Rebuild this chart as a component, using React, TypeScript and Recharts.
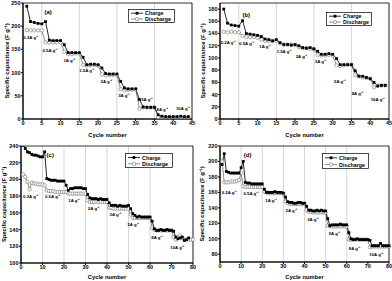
import React from 'react';
import { LineChart, Line, XAxis, YAxis, CartesianGrid, ReferenceArea, ReferenceDot, Legend } from 'recharts';

const FONT = "'Liberation Sans', Arial, sans-serif";

// cycle numbers
const cycles44 = [
  1, 2, 3, 4, 5, 6, 7, 8, 9, 10, 11, 12, 13, 14, 15, 16, 17, 18, 19, 20, 21, 22,
  23, 24, 25, 26, 27, 28, 29, 30, 31, 32, 33, 34, 35, 36, 37, 38, 39, 40, 41, 42, 43, 44,
];
const cycles80 = [
  1, 2, 3, 4, 5, 6, 7, 8, 9, 10, 11, 12, 13, 14, 15, 16, 17, 18, 19, 20,
  21, 22, 23, 24, 25, 26, 27, 28, 29, 30, 31, 32, 33, 34, 35, 36, 37, 38, 39, 40,
  41, 42, 43, 44, 45, 46, 47, 48, 49, 50, 51, 52, 53, 54, 55, 56, 57, 58, 59, 60,
  61, 62, 63, 64, 65, 66, 67, 68, 69, 70, 71, 72, 73, 74, 75, 76, 77, 78, 79, 80,
];

// (a)
const chargeA = [
  243, 210, 208, 206, 205, 210, 170, 169, 169, 169, 160, 143, 143, 143, 143, 133, 117, 118, 118, 117, 110, 98,
  97, 97, 97, 81, 67, 65, 65, 65, 42, 26, 25, 25, 25, 9, 6, 5, 5, 5, 5, 6, 5, 5,
];
const dischargeA = [
  192, 191, 191, 191, 191, 165, 165, 165, 165, 165, 145, 140, 140, 141, 141, 117, 115, 116, 116, 115, 96, 94,
  95, 95, 95, 64, 62, 63, 63, 64, 22, 25, 25, 25, 25, 4, 4, 4, 4, 4, 4, 4, 4, 4,
];

// (b)
const chargeB = [
  180, 157, 154, 153, 152, 161, 140, 139, 138, 137, 135, 131, 130, 128, 130, 125, 122, 122, 121, 122, 120, 117,
  116, 117, 115, 111, 106, 106, 107, 106, 99, 89, 89, 89, 89, 79, 70, 70, 68, 66, 60, 54, 55, 55,
];
const dischargeB = [
  143, 142, 143, 142, 142, 136, 134, 134, 134, 133, 130, 128, 128, 128, 128, 124, 122, 122, 122, 121, 118, 116,
  116, 115, 114, 105, 104, 104, 105, 104, 88, 87, 88, 89, 89, 72, 70, 68, 67, 66, 52, 55, 55, 55,
];

// (c)
const chargeC = [
  241, 237, 233, 232, 230, 229, 229, 228, 227, 227, 233, 201, 200, 199, 199, 199, 198, 198, 198, 198,
  193, 187, 189, 189, 190, 190, 190, 190, 189, 189, 182, 178, 177, 177, 177, 176, 177, 176, 176, 176,
  172, 169, 169, 169, 168, 169, 168, 168, 168, 169, 165, 159, 157, 155, 156, 155, 155, 155, 155, 155,
  150, 141, 139, 139, 140, 139, 139, 140, 139, 139, 138, 131, 129, 130, 131, 127, 128, 130,
];
const dischargeC = [
  206, 203, 197, 188, 196, 195, 195, 194, 194, 194, 193, 187, 186, 186, 186, 185, 185, 185, 185, 185,
  185, 183, 183, 183, 183, 183, 183, 183, 183, 183, 175, 173, 173, 173, 173, 173, 173, 173, 173, 173,
  166, 166, 165, 165, 165, 165, 165, 165, 165, 165, 158, 154, 154, 154, 154, 154, 154, 154, 154, 154,
  142, 140, 139, 139, 139, 139, 139, 139, 139, 139, 131, 128, 131, 133, 130, 128, 128, 128, 128, 128,
];

// (d)
const chargeD = [
  196, 210, 187, 186, 185, 185, 185, 185, 185, 192, 200, 173, 172, 172, 171, 171, 171, 171, 171, 171,
  164, 160, 160, 160, 160, 161, 160, 160, 160, 159, 154, 148, 147, 147, 146, 146, 147, 147, 146, 146,
  142, 137, 137, 136, 136, 137, 136, 137, 136, 136, 126, 117, 118, 118, 118, 118, 119, 118, 118, 118,
  108, 100, 99, 99, 100, 99, 99, 99, 99, 99, 98, 91, 91, 91, 91, 94, 91, 91, 91, 91,
];
const dischargeD = [
  200, 173, 173, 173, 174, 174, 174, 175, 176, 185, 168, 167, 167, 167, 167, 167, 167, 167, 167, 167,
  161, 160, 159, 159, 159, 159, 159, 159, 159, 158, 148, 146, 145, 145, 145, 145, 145, 145, 145, 145,
  137, 135, 135, 134, 134, 134, 134, 134, 134, 134, 117, 116, 116, 116, 116, 116, 116, 116, 116, 116,
  99, 99, 99, 99, 99, 99, 99, 99, 99, 98, 89, 90, 90, 90, 90, 90, 90, 90, 90, 90,
];

// rate labels
const ratesAB = ['0.2A g⁻¹', '0.5A g⁻¹', '1A g⁻¹', '1.5A g⁻¹', '2A g⁻¹', '3A g⁻¹', '5A g⁻¹', '8A g⁻¹', '10A g⁻¹'];
const ratesCD = ['0.2A g⁻¹', '0.5A g⁻¹', '1A g⁻¹', '2A g⁻¹', '3A g⁻¹', '5A g⁻¹', '8A g⁻¹', '10A g⁻¹'];

// tick values
const ticksX45 = [0, 5, 10, 15, 20, 25, 30, 35, 40, 45];
const ticksX80 = [0, 10, 20, 30, 40, 50, 60, 70, 80];
const ticksYA = [0, 50, 100, 150, 200, 250];
const ticksYB = [0, 20, 40, 60, 80, 100, 120, 140, 160, 180];
const ticksYC = [100, 120, 140, 160, 180, 200, 220, 240];
const ticksYD = [80, 100, 120, 140, 160, 180, 200, 220];

const Square = (props: any) => {
  const { cx, cy, index } = props;
  if (cx == null || cy == null) return <g key={`s${index}`} />;
  return <rect key={`s${index}`} x={cx - 1.4} y={cy - 1.4} width={2.8} height={2.8} fill="#000" />;
};

const LegendBox = ({ w, h }: { w: number; h: number }) => (
  <svg width={w} height={h} style={{ display: 'block' }}>
    <rect x={0.4} y={0.4} width={w - 0.8} height={h - 0.8} fill="#fff" stroke="#000" strokeWidth={0.7} />
    <line x1={3} x2={15} y1={h * 0.3} y2={h * 0.3} stroke="#000" strokeWidth={0.8} />
    <rect x={7.6} y={h * 0.3 - 1.4} width={2.8} height={2.8} fill="#000" />
    <text x={17} y={h * 0.3} dominantBaseline="central" fontSize={5.4} fontWeight="bold" fontFamily={FONT}>Charge</text>
    <line x1={3} x2={15} y1={h * 0.72} y2={h * 0.72} stroke="#777" strokeWidth={0.8} />
    <circle cx={9} cy={h * 0.72} r={1.7} fill="#fff" stroke="#666" strokeWidth={0.55} />
    <text x={17} y={h * 0.72} dominantBaseline="central" fontSize={5.4} fontWeight="bold" fontFamily={FONT}>Discharge</text>
  </svg>
);

interface PanelProps {
  left: number;
  top: number;
  height: number;
  mt: number;
  mr: number;
  yw: number;
  xh: number;
  xDomain: [number, number];
  xTicks: number[];
  yDomain: [number, number];
  yTicks: number[];
  cycles: number[];
  charge: number[];
  discharge: number[];
  tag: string;
  tagAt: [number, number];
  rates: string[];
  rateAt: [number, number][];
  legend: { left: number; top: number; w: number; h: number };
  titleX: number;
  xTitleOffset: number;
}

const Panel = (p: PanelProps) => {
  const data = p.cycles.map((c, i) => ({ cycle: c, charge: p.charge[i], discharge: p.discharge[i] }));
  const cy = (p.mt + (p.height - p.xh)) / 2;
  const tickStyle = { fontSize: 5.5, fill: '#000', fontWeight: 'bold', fontFamily: FONT };
  return (
    <div style={{ position: 'absolute', left: p.left, top: p.top }}>
      <LineChart width={196} height={p.height} data={data} margin={{ top: p.mt, right: p.mr, bottom: 0, left: 0 }}>
        <CartesianGrid horizontal={false} stroke="#d0d0d0" strokeWidth={0.9} />
        <XAxis
          dataKey="cycle"
          type="number"
          domain={p.xDomain}
          ticks={p.xTicks}
          height={p.xh}
          tickSize={2}
          tickMargin={0.5}
          stroke="#000"
          tick={tickStyle}
          label={{
            value: 'Cycle number',
            position: 'insideBottom',
            offset: p.xTitleOffset,
            fontSize: 5.8,
            fontWeight: 'bold',
            fill: '#000',
            fontFamily: FONT,
          }}
        />
        <YAxis
          type="number"
          domain={p.yDomain}
          ticks={p.yTicks}
          width={p.yw}
          allowDataOverflow
          tickSize={2}
          tickMargin={0.5}
          stroke="#000"
          tick={tickStyle}
          label={{
            position: 'center',
            content: () => (
              <text
                x={p.titleX}
                y={cy}
                transform={`rotate(-90, ${p.titleX}, ${cy})`}
                textAnchor="middle"
                dominantBaseline="central"
                fontSize={5.8}
                fontWeight="bold"
                fontFamily={FONT}
                fill="#000"
              >
                Specific capacitance (F g⁻¹)
              </text>
            ),
          }}
        />
        <ReferenceArea
          x1={p.xDomain[0]}
          x2={p.xDomain[1]}
          y1={p.yDomain[0]}
          y2={p.yDomain[1]}
          fill="none"
          stroke="#000"
          strokeWidth={0.8}
          ifOverflow="visible"
        />
        <Line
          dataKey="discharge"
          stroke="#777"
          strokeWidth={0.85}
          dot={{ r: 1.7, fill: '#fff', stroke: '#666', strokeWidth: 0.55 }}
          activeDot={false}
          isAnimationActive={false}
        />
        <Line
          dataKey="charge"
          stroke="#000"
          strokeWidth={0.85}
          dot={Square}
          activeDot={false}
          isAnimationActive={false}
        />
        {p.rates.map((r, i) => (
          <ReferenceDot
            key={r + i}
            x={p.rateAt[i][0]}
            y={p.rateAt[i][1]}
            r={1}
            fill="none"
            stroke="none"
            ifOverflow="visible"
            label={{ value: r, position: 'center', fontSize: 4.3, fontWeight: 'bold', fill: '#000', fontFamily: FONT }}
          />
        ))}
        <ReferenceDot
          x={p.tagAt[0]}
          y={p.tagAt[1]}
          r={1}
          fill="none"
          stroke="none"
          ifOverflow="visible"
          label={{ value: p.tag, position: 'center', fontSize: 6, fontWeight: 'bold', fill: '#000', fontFamily: FONT }}
        />
        <Legend
          layout="horizontal"
          verticalAlign="middle"
          align="center"
          wrapperStyle={{ left: p.legend.left, top: p.legend.top, width: 'auto', height: 'auto' }}
          content={() => <LegendBox w={p.legend.w} h={p.legend.h} />}
        />
      </LineChart>
    </div>
  );
};

export default function App() {
  return (
    <div style={{ position: 'absolute', left: 0, top: 0, width: 392, height: 281, background: '#fff' }}>
      <Panel
        left={0}
        top={0}
        height={140}
        mt={3}
        mr={4}
        yw={23}
        xh={21}
        xDomain={[0, 45]}
        xTicks={ticksX45}
        yDomain={[0, 250]}
        yTicks={ticksYA}
        cycles={cycles44}
        charge={chargeA}
        discharge={dischargeA}
        tag="(a)"
        tagAt={[6.7, 230]}
        rates={ratesAB}
        rateAt={[[2.1, 176], [7.2, 147], [12.3, 127], [17, 104], [22.2, 81], [26.9, 50], [33, 43], [37.1, 21], [42.6, 22]]}
        legend={{ left: 128, top: 9, w: 47, h: 14 }}
        titleX={7}
        xTitleOffset={3}
      />
      <Panel
        left={196}
        top={0}
        height={140}
        mt={3}
        mr={3}
        yw={24}
        xh={21}
        xDomain={[0, 45]}
        xTicks={ticksX45}
        yDomain={[0, 190]}
        yTicks={ticksYB}
        cycles={cycles44}
        charge={chargeB}
        discharge={dischargeB}
        tag="(b)"
        tagAt={[7, 170]}
        rates={ratesAB}
        rateAt={[[2.2, 125.6], [7.1, 124.5], [12, 118.5], [17.1, 110], [21.7, 103], [26.8, 93.5], [31.9, 62], [36.6, 42], [42, 32.6]]}
        legend={{ left: 130, top: 12, w: 46, h: 14 }}
        titleX={6.5}
        xTitleOffset={3}
      />
      <Panel
        left={0}
        top={140}
        height={141}
        mt={6}
        mr={3}
        yw={21}
        xh={18}
        xDomain={[0, 80]}
        xTicks={ticksX80}
        yDomain={[100, 240]}
        yTicks={ticksYC}
        cycles={cycles80}
        charge={chargeC}
        discharge={dischargeC}
        tag="(c)"
        tagAt={[13.6, 229]}
        rates={ratesCD}
        rateAt={[[4.5, 180], [14.7, 180], [24.7, 175], [33.8, 165], [43.9, 158], [52.2, 146], [63.3, 130], [72.7, 118]]}
        legend={{ left: 125, top: 13, w: 48, h: 15 }}
        titleX={3.5}
        xTitleOffset={2}
      />
      <Panel
        left={196}
        top={140}
        height={141}
        mt={6}
        mr={3}
        yw={24}
        xh={19}
        xDomain={[0, 80]}
        xTicks={ticksX80}
        yDomain={[70, 220]}
        yTicks={ticksYD}
        cycles={cycles80}
        charge={chargeD}
        discharge={dischargeD}
        tag="(d)"
        tagAt={[13.1, 208]}
        rates={ratesCD}
        rateAt={[[4.4, 160], [14.7, 159], [24.2, 150], [33.8, 136], [44, 125], [54.2, 107], [63.7, 88], [74, 80]]}
        legend={{ left: 126, top: 13, w: 47, h: 16 }}
        titleX={6}
        xTitleOffset={2}
      />
    </div>
  );
}
